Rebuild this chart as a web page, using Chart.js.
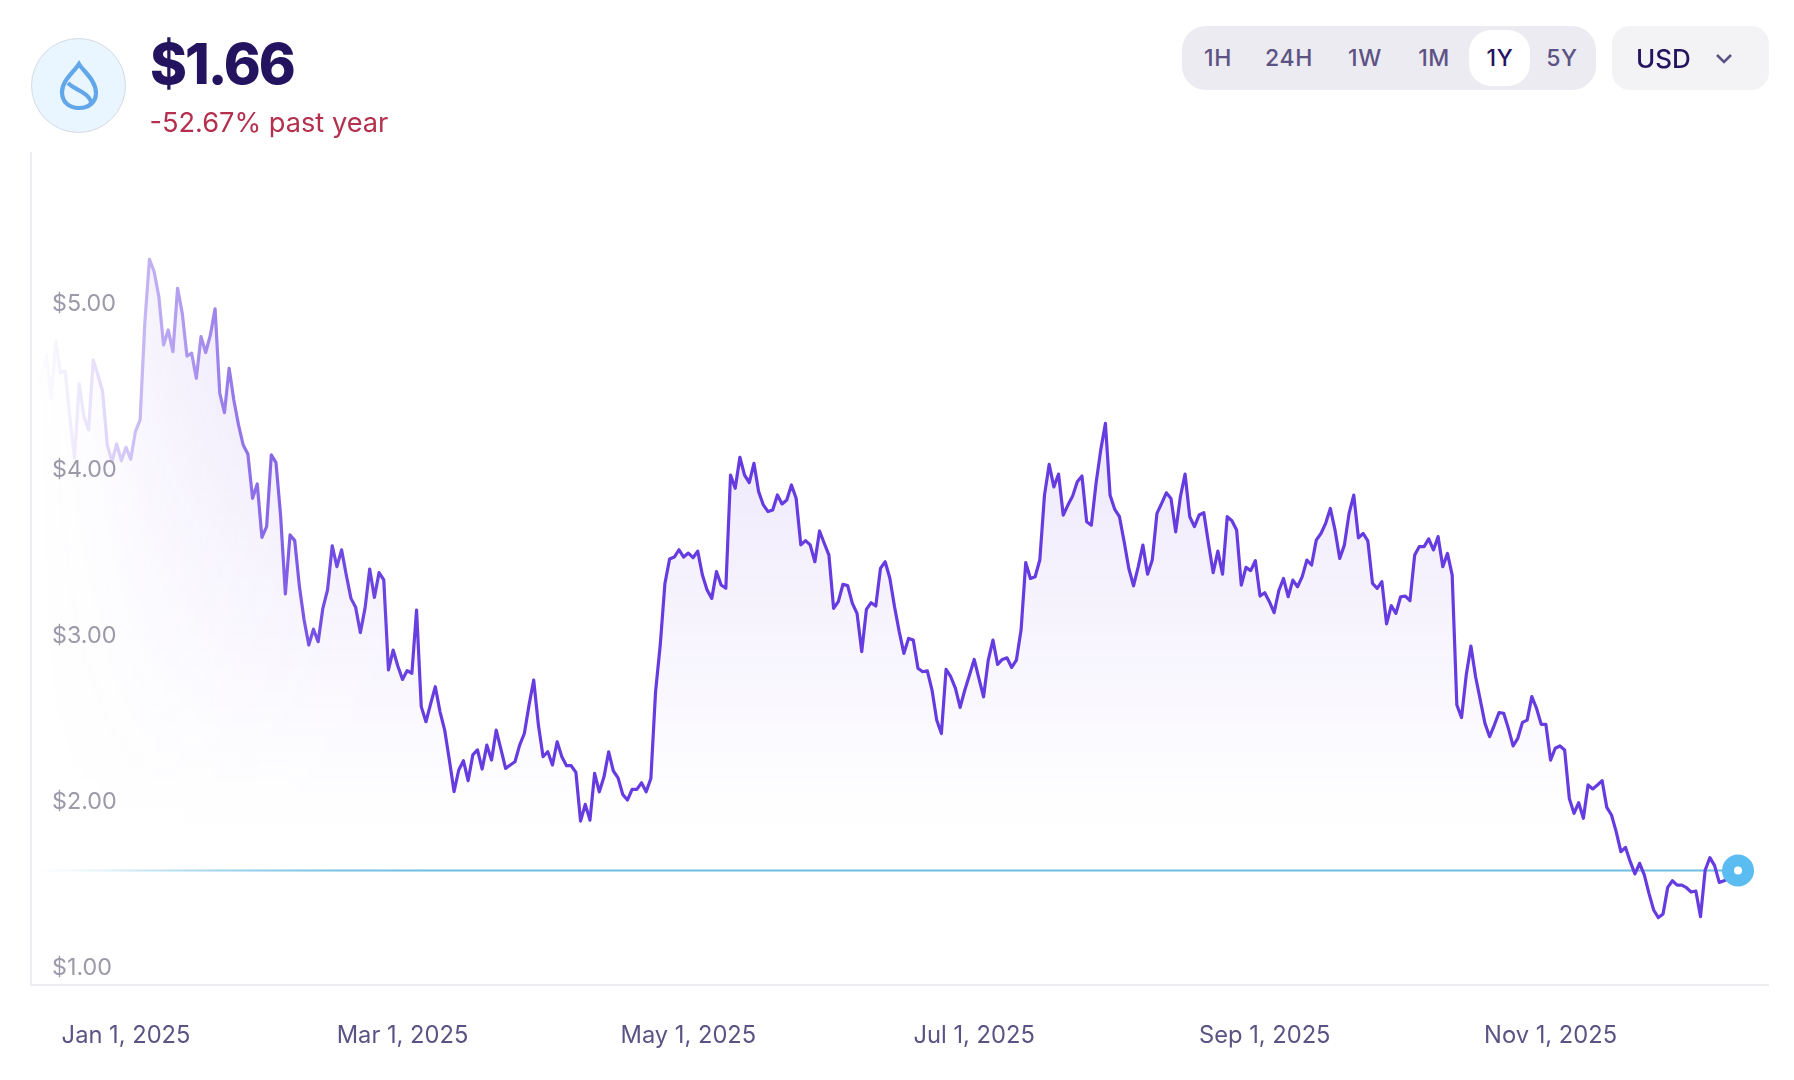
<!DOCTYPE html>
<html>
<head>
<meta charset="utf-8">
<script src="https://cdn.jsdelivr.net/npm/chart.js@4"></script>
<style>
html,body{margin:0;padding:0;background:#fff;width:1794px;height:1080px;overflow:hidden;font-family:Inter,sans-serif}
#c{position:absolute;left:0;top:0;width:1794px;height:1080px}
.abs{position:absolute;white-space:nowrap}
#logo{left:30.5px;top:38px;width:95px;height:95px;border-radius:50%;background:#e9f5ff;border:1.5px solid #d5dae2;box-sizing:border-box}
#price{left:150px;top:30px;font-size:56px;font-weight:800;line-height:68px;color:#24145f;letter-spacing:-2px}
#change{left:149.5px;top:106px;font-size:27.2px;line-height:34px;color:#b3304f}
#pill{left:1182px;top:26px;width:414px;height:64px;border-radius:24px;background:#ecebf1}
#active{left:1469px;top:30px;width:61px;height:56px;border-radius:22px;background:#fff}
.rng{top:42px;font-size:23px;font-weight:500;line-height:32px;color:#5c5384;letter-spacing:.6px;transform:translateX(-50%)}
#usdbox{left:1612px;top:26px;width:157px;height:64px;border-radius:18px;background:#f3f3f6}
#usd{left:1636px;top:42px;font-size:26px;font-weight:500;line-height:34px;color:#24145f}
</style>
</head>
<body>
<canvas id="c" width="1794" height="1080"></canvas>
<div class="abs" id="logo"></div>
<svg class="abs" style="left:55.5px;top:60px" width="46" height="52" viewBox="0 0 46 52" fill="none" stroke="#61a7ea" stroke-width="4.2">
  <path d="M23 4 C27 11 40 20 40 33 C40 42 33 48 23 48 C13 48 6 42 6 32 C6 21 17 13 23 4 Z"/>
  <path d="M12 23 C16 27 21 29 26 32 C31 35 35 38 35 43"/>
</svg>
<div class="abs" id="price">$1.66</div>
<div class="abs" id="change">-52.67% past year</div>
<div class="abs" id="pill"></div>
<div class="abs" id="active"></div>
<div id="ranges"></div>
<div class="abs" id="usdbox"></div>
<div class="abs" id="usd">USD</div>
<svg class="abs" style="left:1714px;top:52px" width="20" height="14" viewBox="0 0 20 14" fill="none" stroke="#5c5384" stroke-width="2.6"><path d="M3 3 L10 10 L17 3"/></svg>
<script>
const rangeLabels = ["1H","24H","1W","1M","1Y","5Y"];
const rangeCentres = [1218,1289,1365,1434,1500,1562];
const activeRange = "1Y";
const currentPrice = 1.66;
const yTickValues = [1,2,3,4,5];
const xTickDays = [19,78,139,200,262,323];
const xTickLabels = ["Jan 1, 2025","Mar 1, 2025","May 1, 2025","Jul 1, 2025","Sep 1, 2025","Nov 1, 2025"];

const pricesA = [4.555,4.655,4.765,4.504,4.846,4.659,4.671,4.394,4.143,4.591,4.394,4.314,4.735,4.645,4.545,4.223,4.123,4.229,4.129,4.209,4.137,4.304,4.374,4.956,5.342,5.267,5.117,4.826,4.916,4.786,5.167,5.016,4.759,4.776,4.625,4.876,4.780,4.886,5.043,4.535,4.418,4.685,4.494,4.344,4.223,4.169,3.902,3.988];
const pricesB = [3.667,3.731,4.163,4.117,3.791,3.326,3.681,3.647,3.370,3.169,3.018,3.113,3.038,3.239,3.350,3.615,3.490,3.591,3.440,3.299,3.245,3.093,3.239,3.476,3.305,3.454,3.410,2.868,2.988,2.892,2.811,2.864,2.848,3.229,2.647,2.556,2.663,2.767,2.617,2.506,2.326,2.135,2.265,2.321,2.201,2.356,2.386];
const pricesC = [2.271,2.415,2.325,2.506,2.391,2.275,2.295,2.315,2.415,2.485,2.656,2.807,2.536,2.345,2.375,2.295,2.435,2.345,2.291,2.291,2.251,1.957,2.058,1.963,2.245,2.134,2.224,2.375,2.259,2.218,2.118,2.084,2.148,2.148,2.188,2.134,2.214,2.736,3.018,3.389,3.536,3.548,3.592,3.548,3.572,3.544,3.584];
const pricesD = [3.440,3.350,3.299,3.460,3.380,3.360,4.042,3.962,4.149,4.042,3.996,4.113,3.942,3.862,3.822,3.832,3.922,3.868,3.892,3.982,3.902,3.621,3.647,3.621,3.520,3.705,3.631,3.560,3.239,3.279,3.384,3.376,3.269,3.209,2.978,3.233,3.273,3.253,3.480,3.520,3.420,3.249,3.099,2.968,3.058,3.048,2.878];
const pricesE = [2.857,2.863,2.747,2.566,2.485,2.871,2.827,2.757,2.642,2.747,2.837,2.931,2.817,2.706,2.927,3.048,2.901,2.931,2.941,2.883,2.927,3.108,3.514,3.419,3.429,3.530,3.921,4.106,3.971,4.048,3.801,3.861,3.915,4.001,4.036,3.761,3.740,3.991,4.192,4.353,3.921,3.835,3.791,3.640,3.479,3.375,3.489,3.620];
const pricesF = [3.445,3.530,3.811,3.871,3.935,3.901,3.700,3.911,4.048,3.791,3.731,3.801,3.815,3.630,3.454,3.584,3.445,3.791,3.767,3.711,3.379,3.486,3.466,3.526,3.313,3.333,3.279,3.213,3.345,3.419,3.309,3.409,3.369,3.430,3.530,3.500,3.650,3.690,3.751,3.841,3.711,3.540,3.620,3.811,3.921,3.664,3.690,3.646,3.389,3.359];
const pricesG = [3.400,3.145,3.255,3.209,3.309,3.313,3.285,3.560,3.611,3.611,3.657,3.591,3.671,3.490,3.570,3.440,2.657,2.581,2.837,3.012,2.827,2.687,2.546,2.466,2.536,2.611,2.607,2.516,2.410,2.456,2.552,2.566,2.707,2.637,2.540,2.540,2.325,2.396,2.410,2.386];
const pricesH = [2.094,2.004,2.068,1.974,2.175,2.151,2.175,2.201,2.040,1.994,1.894,1.773,1.799,1.713,1.639,1.703,1.633,1.522,1.422,1.376,1.398,1.558,1.598,1.572,1.572,1.556,1.530,1.536,1.382,1.663,1.737,1.689,1.588,1.598,1.611,1.640,1.660];
const prices = [].concat(pricesA,pricesB,pricesC,pricesD,pricesE,pricesF,pricesG,pricesH);
const lastDay = prices.length - 1;

const rangesEl = document.getElementById('ranges');
rangeLabels.forEach((t,i)=>{
  const d = document.createElement('div');
  d.className = 'abs rng';
  d.style.left = rangeCentres[i] + 'px';
  if (t === activeRange) d.style.color = '#24145f';
  d.textContent = t;
  rangesEl.appendChild(d);
});

const fadeMask = {
  id:'fadeMask',
  afterDatasetsDraw(chart){
    const ctx = chart.ctx;
    const g = ctx.createLinearGradient(36,0,430,0);
    g.addColorStop(0,'rgba(0,0,0,0)');
    g.addColorStop(0.16,'rgba(0,0,0,0.17)');
    g.addColorStop(0.29,'rgba(0,0,0,0.40)');
    g.addColorStop(0.49,'rgba(0,0,0,0.68)');
    g.addColorStop(0.74,'rgba(0,0,0,0.92)');
    g.addColorStop(1,'rgba(0,0,0,1)');
    ctx.save();
    ctx.globalCompositeOperation = 'destination-in';
    ctx.fillStyle = g;
    ctx.fillRect(0,0,chart.width,chart.height);
    ctx.restore();
  }
};

const fillGradient = (c)=>{
  const g = c.chart.ctx.createLinearGradient(0,258,0,830);
  g.addColorStop(0,'rgba(110,60,225,0.17)');
  g.addColorStop(0.55,'rgba(110,60,225,0.07)');
  g.addColorStop(1,'rgba(110,60,225,0)');
  return g;
};

Chart.defaults.font.family = 'Inter, sans-serif';
new Chart(document.getElementById('c'),{
  type:'line',
  plugins:[fadeMask],
  data:{datasets:[
    {label:'Now',order:0,data:[{x:lastDay,y:currentPrice}],showLine:false,pointRadius:10,pointBorderWidth:12,pointBackgroundColor:'#ffffff',pointBorderColor:'#5bbcf2',pointHoverRadius:10},
    {label:'Price',order:1,data:prices.map((v,i)=>({x:i,y:v})),borderColor:'#663ce0',borderWidth:3.2,borderJoinStyle:'round',tension:0,pointRadius:0,fill:'start',backgroundColor:fillGradient},
    {label:'Current',order:2,data:[{x:0,y:currentPrice},{x:lastDay,y:currentPrice}],borderColor:'#6fbde2',borderWidth:2,pointRadius:0,fill:false}
  ]},
  options:{
    responsive:false,
    animation:false,
    events:[],
    layout:{padding:{left:31,right:26,top:153,bottom:0}},
    plugins:{legend:{display:false},tooltip:{enabled:false}},
    scales:{
      x:{
        type:'linear',min:-1.28,max:369.4,
        grid:{display:false,drawTicks:false},
        border:{display:true,color:'#ececf1',width:2,z:1},
        afterBuildTicks(s){s.ticks = xTickDays.map(v=>({value:v}));},
        afterFit(s){s.height = 95;s.paddingLeft = 0;s.paddingRight = 0;},
        ticks:{z:1,padding:37,autoSkip:false,maxRotation:0,includeBounds:false,color:'#5c5384',font:{size:23.7},
          callback(v){const i = xTickDays.indexOf(v);return i>=0?xTickLabels[i]:'';}}
      },
      y:{
        type:'linear',min:0.97,max:5.982,
        grid:{display:false,drawTicks:false},
        border:{display:true,color:'#ececf1',width:2,z:1},
        afterBuildTicks(s){s.ticks = yTickValues.map(v=>({value:v}));},
        afterFit(s){s.width = 0;s.paddingTop = 0;s.paddingBottom = 0;},
        ticks:{z:1,mirror:true,padding:21,labelOffset:-12,autoSkip:false,includeBounds:false,color:'#9c9aa9',font:{size:23.3},
          callback(v){return '$'+v.toFixed(2);}}
      }
    }
  }
});
</script>
</body>
</html>
